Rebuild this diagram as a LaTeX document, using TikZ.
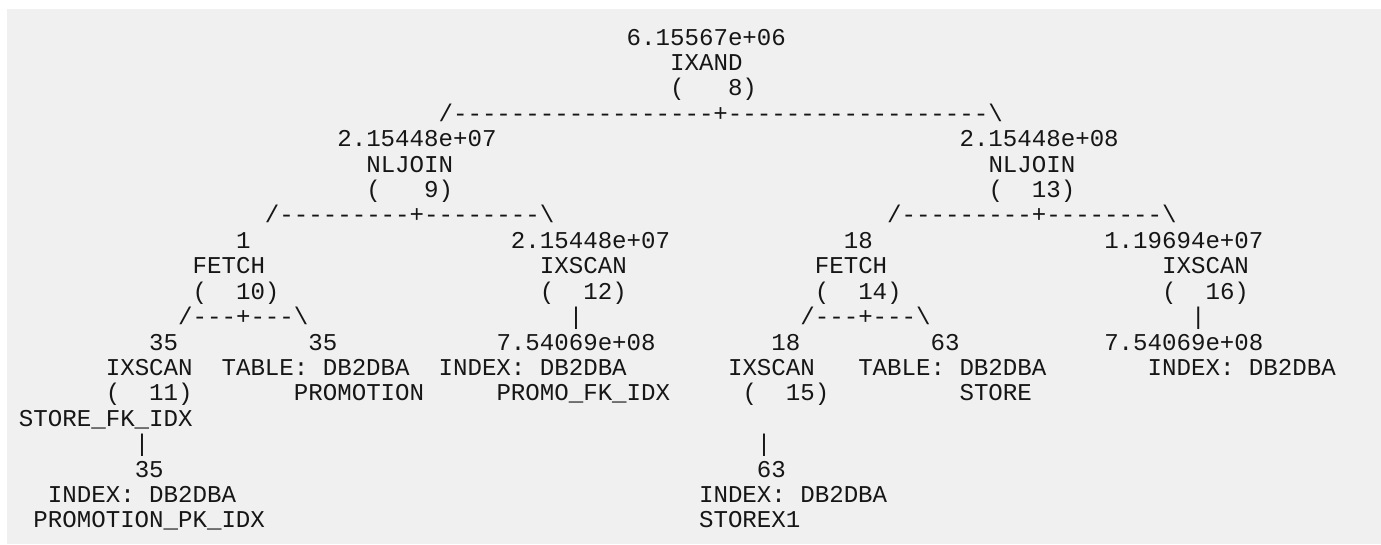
\documentclass[tikz,border=0pt]{standalone}
\usepackage{fontspec}
\setmonofont{Liberation Mono}
\definecolor{bgray}{HTML}{F0F0F0}
\definecolor{ink}{HTML}{161616}
\newcommand\T[4]{\node[txt] (#1) at ({19+#2*14.47},{45+#3*25.42}) {#4};}
\newcommand\bs{\textbackslash}
\newcommand\sps[1]{\hphantom{#1}}
\begin{document}
\begin{tikzpicture}[x=1pt,y=-1pt,
  txt/.style={anchor=base west,inner sep=0pt,outer sep=0pt,text=ink,
    font=\ttfamily\fontsize{24.11pt}{25pt}\selectfont}]
\useasboundingbox (0,0) rectangle (1381,544);
\fill[white] (0,0) rectangle (1381,544);
\fill[bgray] (7,9) rectangle (1381,544);
% row 0-3
\T{c8}{42}{0}{6.15567e+06}
\T{o8}{45}{1}{IXAND}
\T{n8}{45}{2}{(\sps{000}8)}
\T{l8}{29}{3}{/------------------+------------------\bs}
% rows 4-7
\T{c9}{22}{4}{2.15448e+07}
\T{c13}{65}{4}{2.15448e+08}
\T{o9}{24}{5}{NLJOIN}
\T{o13}{67}{5}{NLJOIN}
\T{n9}{24}{6}{(\sps{000}9)}
\T{n13}{67}{6}{(\sps{00}13)}
\T{l9}{17}{7}{/---------+--------\bs}
\T{l13}{60}{7}{/---------+--------\bs}
% rows 8-11
\T{c10}{15}{8}{1}
\T{c12}{34}{8}{2.15448e+07}
\T{c14}{57}{8}{18}
\T{c16}{75}{8}{1.19694e+07}
\T{o10}{12}{9}{FETCH}
\T{o12}{36}{9}{IXSCAN}
\T{o14}{55}{9}{FETCH}
\T{o16}{79}{9}{IXSCAN}
\T{n10}{12}{10}{(\sps{00}10)}
\T{n12}{36}{10}{(\sps{00}12)}
\T{n14}{55}{10}{(\sps{00}14)}
\T{n16}{79}{10}{(\sps{00}16)}
\T{l10}{11}{11}{/---+---\bs}
\T{l12}{38}{11}{|}
\T{l14}{54}{11}{/---+---\bs}
\T{l16}{81}{11}{|}
% rows 12-14
\T{c11}{9}{12}{35}
\T{cpt}{20}{12}{35}
\T{cpfi}{33}{12}{7.54069e+08}
\T{c15}{52}{12}{18}
\T{cst}{63}{12}{63}
\T{csfi}{75}{12}{7.54069e+08}
\T{o11}{6}{13}{IXSCAN}
\T{tpt}{14}{13}{TABLE: DB2DBA}
\T{tpfi}{29}{13}{INDEX: DB2DBA}
\T{o15}{49}{13}{IXSCAN}
\T{tst}{58}{13}{TABLE: DB2DBA}
\T{tsfi}{78}{13}{INDEX: DB2DBA}
\T{n11}{6}{14}{(\sps{00}11)}
\T{npt}{19}{14}{PROMOTION}
\T{npfi}{33}{14}{PROMO\_FK\_IDX}
\T{n15}{50}{14}{(\sps{00}15)}
\T{nst}{65}{14}{STORE}
% rows 15-19
\T{nsfk}{0}{15}{STORE\_FK\_IDX}
\T{l11}{8}{16}{|}
\T{l15}{51}{16}{|}
\T{cppk}{8}{17}{35}
\T{csx}{51}{17}{63}
\T{tppk}{2}{18}{INDEX: DB2DBA}
\T{tsx}{47}{18}{INDEX: DB2DBA}
\T{nppk}{1}{19}{PROMOTION\_PK\_IDX}
\T{nsx}{47}{19}{STOREX1}
\end{tikzpicture}
\end{document}
